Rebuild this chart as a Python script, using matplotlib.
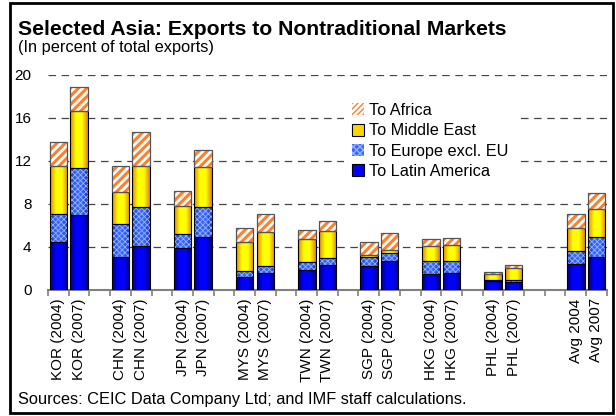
import matplotlib
matplotlib.use('Agg')
import matplotlib.pyplot as plt
import numpy as np
from matplotlib.patches import Rectangle

plt.rcParams['font.family'] = ['Liberation Sans', 'DejaVu Sans']

# data (percent of total exports)
labels = ['KOR (2004)', 'KOR (2007)', 'CHN (2004)', 'CHN (2007)',
          'JPN (2004)', 'JPN (2007)', 'MYS (2004)', 'MYS (2007)',
          'TWN (2004)', 'TWN (2007)', 'SGP (2004)', 'SGP (2007)',
          'HKG (2004)', 'HKG (2007)', 'PHL (2004)', 'PHL (2007)',
          'Avg 2004', 'Avg 2007']
slots = [0, 1, 3, 4, 6, 7, 9, 10, 12, 13, 15, 16, 18, 19, 21, 22, 25, 26]

latin_america = [4.5, 7.0, 3.05, 4.1, 3.9, 4.9, 1.2, 1.55,
                 1.9, 2.35, 2.2, 2.7, 1.45, 1.55, 0.8, 0.7, 2.4, 3.1]
europe_ex_eu = [2.6, 4.3, 3.05, 3.6, 1.3, 2.8, 0.6, 0.7,
                0.7, 0.65, 0.85, 0.75, 1.25, 1.15, 0.1, 0.25, 1.25, 1.8]
middle_east = [4.4, 5.35, 3.0, 3.8, 2.6, 3.7, 2.7, 3.15,
               2.1, 2.45, 0.2, 0.3, 1.4, 1.5, 0.55, 1.05, 2.1, 2.6]
africa = [2.3, 2.2, 2.4, 3.15, 1.4, 1.6, 1.25, 1.65,
          0.85, 0.95, 1.2, 1.55, 0.65, 0.6, 0.25, 0.35, 1.35, 1.5]

n_slots = 27
w = 0.85

fig = plt.figure(figsize=(6.16, 4.16), dpi=100)
ax = fig.add_axes([0.078, 0.303, 0.907, 0.517])

x = np.array(slots, dtype=float)
la = np.array(latin_america)
eu = np.array(europe_ex_eu)
me = np.array(middle_east)
af = np.array(africa)


def gradient_fill(bars, edge, mid, z):
    cmap = matplotlib.colors.LinearSegmentedColormap.from_list('g', [edge, mid, mid, edge])
    grad = np.linspace(0, 1, 64).reshape(1, -1)
    for b in bars:
        x0, y0 = b.get_x(), b.get_y()
        ax.imshow(grad, cmap=cmap, aspect='auto', zorder=z,
                  extent=[x0, x0 + b.get_width(), y0, y0 + b.get_height()])


# Latin America
b1 = ax.bar(x, la, w, color='none', edgecolor='black', lw=0.8, zorder=4)
gradient_fill(b1, '#000080', '#0000FF', 3)
# Europe excl. EU
b2 = ax.bar(x, eu, w, bottom=la, color='none', edgecolor='black', lw=0.8, zorder=4)
gradient_fill(b2, '#1A38B0', '#3A66FF', 3)
with plt.rc_context({'hatch.linewidth': 0.6}):
    ax.bar(x, eu, w, bottom=la, color='none', edgecolor='#94B4FF', lw=0,
           hatch='xxxxxx', zorder=3.5)
# Middle East
b3 = ax.bar(x, me, w, bottom=la + eu, color='none', edgecolor='black', lw=0.8, zorder=4)
gradient_fill(b3, '#E08800', '#FFFF00', 3)
# Africa
with plt.rc_context({'hatch.linewidth': 2.2}):
    ax.bar(x, af, w, bottom=la + eu + me, color='white', edgecolor='#FF7F2A', lw=0,
           hatch='////', zorder=3)
ax.bar(x, af, w, bottom=la + eu + me, color='none', edgecolor='#555555', lw=0.9, zorder=4)

# legend proxies
h_af = Rectangle((0, 0), 1, 1, facecolor='white', edgecolor='#FF7F2A', hatch='//////', lw=0)
h_me = Rectangle((0, 0), 1, 1, facecolor='#FFD500', edgecolor='black', lw=0.8)
h_eu = Rectangle((0, 0), 1, 1, facecolor='#3A66FF', edgecolor='#94B4FF', hatch='xxxxx', lw=0)
h_la = Rectangle((0, 0), 1, 1, facecolor='#0000FF', edgecolor='black', lw=0.8)
leg = ax.legend([h_af, h_me, h_eu, h_la],
                ['To Africa', 'To Middle East', 'To Europe excl. EU', 'To Latin America'],
                loc='upper left', bbox_to_anchor=(0.515, 0.945), fontsize=11.7,
                frameon=True, facecolor='white', edgecolor='none', framealpha=1,
                handlelength=0.75, handleheight=0.75, handletextpad=0.3,
                labelspacing=0.33, borderpad=0.5, fancybox=False)
leg.set_zorder(5)

ax.set_xlim(-0.5, n_slots - 0.5)
ax.set_ylim(0, 20)
ax.set_yticks([0, 4, 8, 12, 16, 20])
ax.yaxis.grid(True, linestyle=(0, (6, 4.5)), color='#444444', lw=0.9)
ax.set_axisbelow(True)
ax.tick_params(axis='y', length=0, labelsize=11, pad=12)

ax.set_xticks(x)
ax.set_xticklabels(labels, rotation=90, fontsize=11)
ax.tick_params(axis='x', which='major', length=0, pad=6)
ax.set_xticks(np.arange(n_slots + 1) - 0.5, minor=True)
ax.tick_params(axis='x', which='minor', length=4, width=1.2, color='#808080', direction='out')

for s in ['top', 'right', 'left']:
    ax.spines[s].set_visible(False)
ax.spines['bottom'].set_color('#808080')
ax.spines['bottom'].set_linewidth(1.5)

fig.text(0.029, 0.916, 'Selected Asia: Exports to Nontraditional Markets',
         fontsize=15.2, fontweight='bold', va='baseline')
fig.text(0.029, 0.874, '(In percent of total exports)', fontsize=11.8, va='baseline')
fig.text(0.029, 0.028, 'Sources: CEIC Data Company Ltd; and IMF staff calculations.',
         fontsize=11.8, va='baseline')

fig.add_artist(Rectangle((0.017, 0.008), 0.978, 0.984, transform=fig.transFigure,
                         fill=False, edgecolor='black', lw=2))

fig.savefig('out.png', dpi=100)
